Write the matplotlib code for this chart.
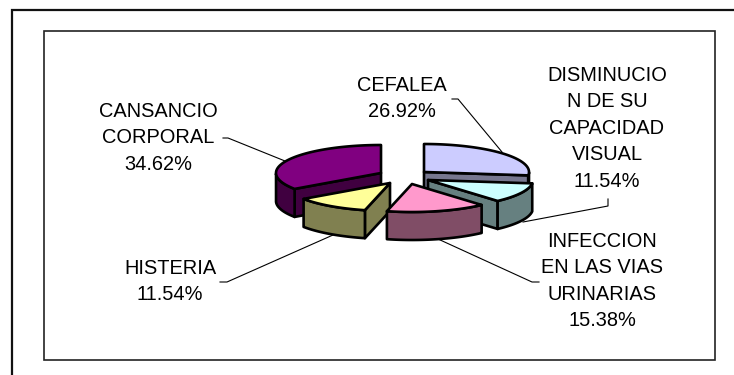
import numpy as np
import matplotlib
matplotlib.use("Agg")
import matplotlib.pyplot as plt
from matplotlib.patches import Polygon, Rectangle

# ---- data ----
categories = ["CEFALEA", "DISMINUCION DE SU CAPACIDAD VISUAL", "INFECCION EN LAS VIAS URINARIAS",
              "HISTERIA", "CANSANCIO CORPORAL"]
percent = [26.92, 11.54, 15.38, 11.54, 34.62]
label_lines = [["CEFALEA"], ["DISMINUCIO", "N DE SU", "CAPACIDAD", "VISUAL"],
               ["INFECCION", "EN LAS VIAS", "URINARIAS"], ["HISTERIA"], ["CANSANCIO", "CORPORAL"]]
top_colors = ["#CCCCFF", "#CCFFFF", "#FF99CC", "#FFFF99", "#800080"]
side_colors = ["#77778F", "#668080", "#804D66", "#808050", "#400040"]

# ---- layout (pixels) ----
W, H = 734, 375
RX, RY, DEPTH = 105, 28, 28
apex = [(424, 172), (428, 180), (412, 184), (390, 183), (381, 173)]
label_pos = [(402, 84), (607, 74), (602, 240), (170, 267), (158, 110)]
LINE_STEP = 26.4
leaders = [[(452, 99), (458, 99), (502, 152)],
           [(608, 199), (608, 206), (523, 222)],
           [(539, 282), (532, 282), (438, 239)],
           [(220, 282), (227, 282), (333, 235)],
           [(223, 138), (228, 138), (285, 161)]]
draw_order = [4, 0, 1, 3, 2]

plt.rcParams["font.family"] = ["Liberation Sans", "DejaVu Sans"]
fig = plt.figure(figsize=(W / 100, H / 100), dpi=100)
ax = fig.add_axes([0, 0, 1, 1])
ax.set_xlim(0, W)
ax.set_ylim(H, 0)
ax.axis("off")

# frames
ax.plot([11.5, 11.5, W + 5], [H + 5, 9.5, 9.5], color="#111111", lw=1.6, solid_joinstyle="miter", zorder=1)
ax.add_patch(Rectangle((43.5, 31), 671.5, 328.5, fc="white", ec="#222222", lw=1.2, zorder=1))


def ell(center, ang_cw):
    """Point on the ellipse at angle measured clockwise from 12 o'clock (deg)."""
    t = np.radians(ang_cw)
    return np.column_stack([center[0] + RX * np.sin(t), center[1] - RY * np.cos(t)])


edges = np.cumsum([0] + percent) / sum(percent) * 360
z = 5
kw = dict(ec="black", lw=1.9, joinstyle="round")
for i in draw_order:
    a0, a1 = edges[i], edges[i + 1]
    c = np.array(apex[i], float)
    arc_ang = np.linspace(a0, a1, 80)
    arc = ell(c, arc_ang)
    mid = ell(c, np.array([(a0 + a1) / 2]))[0] - c
    down = np.array([0, DEPTH])
    # cut walls: only those facing the viewer (slice interior lies above the edge)
    for ang in (a0, a1):
        p = ell(c, np.array([ang]))[0]
        d = p - c
        if abs(d[0]) < 1:
            continue
        if d[0] < 0:
            d = -d
        if d[0] * mid[1] - d[1] * mid[0] < 0:
            ax.add_patch(Polygon([c, p, p + down, c + down], fc=side_colors[i], zorder=z, **kw))
    # front rim
    front = arc_ang[(arc_ang > 90) & (arc_ang < 270)]
    if len(front) > 1:
        r = ell(c, front)
        ax.add_patch(Polygon(np.vstack([r, (r + down)[::-1]]), fc=side_colors[i], zorder=z + 0.1, **kw))
    # top
    ax.add_patch(Polygon(np.vstack([c, arc]), fc=top_colors[i], zorder=z + 0.2, **kw))
    z += 1

# leaders
for pts in leaders:
    xs, ys = zip(*pts)
    ax.plot(xs, ys, color="black", lw=0.8, zorder=3)

# labels (y is the middle of the capitals)
for i, lines in enumerate(label_lines):
    x, y = label_pos[i]
    for k, t in enumerate(lines + [f"{percent[i]:.2f}%"]):
        ax.text(x, y + k * LINE_STEP + 7, t, ha="center", va="baseline", fontsize=14.4, color="black", zorder=30)

fig.savefig("out.png", dpi=100)
